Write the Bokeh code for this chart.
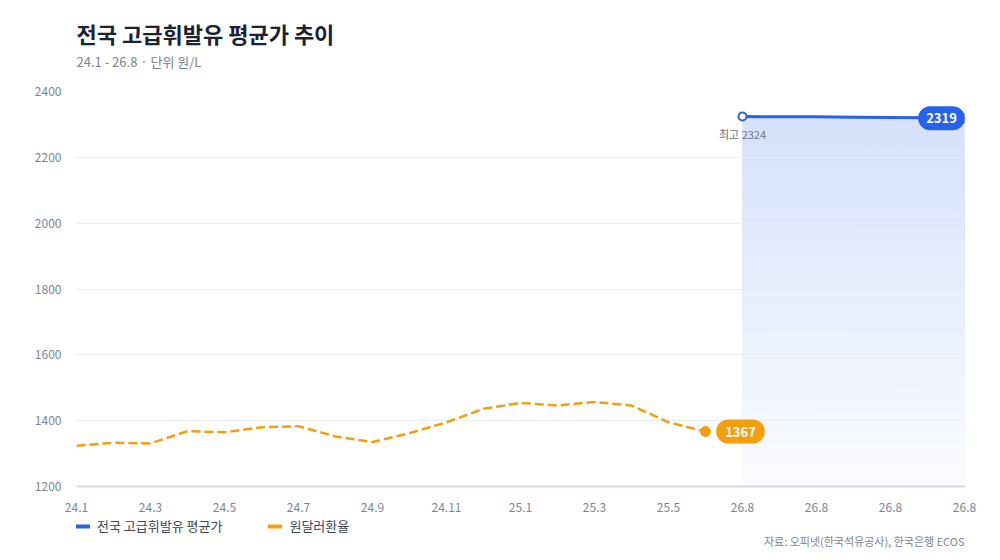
import numpy as np
from bokeh.plotting import figure
from bokeh.layouts import column
from bokeh.models import FixedTicker, Legend, LegendItem, Label, Range1d
from bokeh.embed import file_html
from bokeh.resources import INLINE

# ---- data ----
months = ["24.1", "24.2", "24.3", "24.4", "24.5", "24.6", "24.7", "24.8", "24.9",
          "24.10", "24.11", "24.12", "25.1", "25.2", "25.3", "25.4", "25.5", "25.6",
          "26.8", "26.8", "26.8", "26.8", "26.8", "26.8", "26.8"]
exchange = [1324, 1333, 1331, 1368, 1365, 1380, 1383, 1352, 1335, 1362, 1395, 1436,
            1454, 1446, 1457, 1446, 1395, 1367]
fuel = [2324, 2323, 2323, 2322, 2321, 2320, 2319]
fuel_start = 18
y_ticks = [1200, 1400, 1600, 1800, 2000, 2200, 2400]
fuel_name = "전국 고급휘발유 평균가"
fx_name = "원달러환율"
title_text = "전국 고급휘발유 평균가 추이"
subtitle_text = "24.1 - 26.8 · 단위 원/L"
source_text = "자료: 오피넷(한국석유공사), 한국은행 ECOS"
peak_text = "최고 2324"

FONT = "Noto Sans CJK KR"
BLUE = "#2563eb"
ORANGE = "#f59e0b"
GRAY = "#7b8496"
W = 990
LEFT = 76
RIGHT = 26
FW = W - LEFT - RIGHT


def blank(h):
    f = figure(width=W, height=h, output_backend="svg", toolbar_location=None,
               x_range=Range1d(0, FW), y_range=Range1d(0, h),
               min_border_left=LEFT, min_border_right=RIGHT,
               min_border_top=0, min_border_bottom=0)
    f.axis.visible = False
    f.grid.visible = False
    f.outline_line_color = None
    f.background_fill_color = "white"
    f.border_fill_color = "white"
    return f


def blend(a):
    b = (0x25, 0x63, 0xeb)
    return "#%02x%02x%02x" % tuple(int(round(255 * (1 - a) + c * a)) for c in b)


# ---- header ----
HH = 83
header = blank(HH)
header.add_layout(Label(x=0, y=HH - 32, text=title_text, text_font=FONT,
                        text_font_size="22px", text_font_style="bold",
                        text_color="#1b2232", text_baseline="middle", text_align="left"))
header.add_layout(Label(x=0, y=HH - 61, text=subtitle_text, text_font=FONT,
                        text_font_size="13px", text_color=GRAY,
                        text_baseline="middle", text_align="left"))

# ---- main chart ----
p = figure(width=W, height=433, output_backend="svg", toolbar_location=None,
           x_range=Range1d(0, len(months) - 1), y_range=Range1d(y_ticks[0], y_ticks[-1]),
           min_border_left=LEFT, min_border_right=RIGHT, min_border_top=8,
           min_border_bottom=30)
p.outline_line_color = None
p.background_fill_color = "white"
p.border_fill_color = "white"

ex_x = np.arange(len(exchange))
fu_x = np.arange(fuel_start, fuel_start + len(fuel))
fv = np.array(fuel, dtype=float)
base = float(y_ticks[0])
N = 60
for k in range(N, 0, -1):
    top = base + (fv - base) * k / N
    a = 0.02 + 0.17 * k / N
    p.varea(x=fu_x, y1=base, y2=top, fill_color=blend(a), fill_alpha=1.0, level="image")

p.line(ex_x, exchange, line_color=ORANGE, line_width=2.5, line_dash="9 4")
p.line(fu_x, fuel, line_color=BLUE, line_width=3)
p.scatter([ex_x[-1]], [exchange[-1]], size=10, fill_color=ORANGE, line_color=ORANGE)
p.scatter([fu_x[0]], [fuel[0]], size=8, fill_color="white", line_color=BLUE, line_width=2)
p.scatter([fu_x[-1]], [fuel[-1]], size=9, fill_color=BLUE, line_color=BLUE)

p.add_layout(Label(x=fu_x[-1], y=fuel[-1], text=str(fuel[-1]), x_offset=-23,
                   text_align="center", text_baseline="middle",
                   text_font=FONT, text_font_size="13px", text_font_style="bold",
                   text_color="white", background_fill_color=BLUE,
                   border_radius=12, padding=(8, 7)))
p.add_layout(Label(x=ex_x[-1], y=exchange[-1], text=str(exchange[-1]), x_offset=35,
                   text_align="center", text_baseline="middle",
                   text_font=FONT, text_font_size="13px", text_font_style="bold",
                   text_color="white", background_fill_color=ORANGE,
                   border_radius=12, padding=(9, 7)))
p.add_layout(Label(x=fu_x[0], y=fuel[0], text=peak_text, y_offset=-17,
                   text_align="center", text_baseline="middle",
                   text_font=FONT, text_font_size="11px", text_color="#6b7280"))

p.xaxis.ticker = FixedTicker(ticks=list(range(0, len(months), 2)))
p.xaxis.major_label_overrides = {i: months[i] for i in range(0, len(months), 2)}
p.yaxis.ticker = FixedTicker(ticks=y_ticks)
for ax in (p.xaxis, p.yaxis):
    ax.major_tick_line_color = None
    ax.minor_tick_line_color = None
    ax.major_tick_out = 0
    ax.major_tick_in = 0
    ax.minor_tick_out = 0
    ax.major_label_text_font = FONT
    ax.major_label_text_font_size = "12px"
    ax.major_label_text_color = GRAY
p.yaxis.axis_line_color = None
p.yaxis.major_label_standoff = 15
p.xaxis.axis_line_color = "#d5dae2"
p.xaxis.axis_line_width = 2
p.xaxis.major_label_standoff = 16
p.xgrid.grid_line_color = None
p.ygrid.grid_line_color = "#e9edf3"

# ---- footer: legend + source ----
FH = 42
footer = blank(FH)
r1 = footer.line([-50, -40], [-50, -50], line_color=BLUE, line_width=4, line_cap="round")
r2 = footer.line([-50, -40], [-50, -50], line_color=ORANGE, line_width=4, line_cap="round")
legend = Legend(items=[LegendItem(label=fuel_name, renderers=[r1]),
                       LegendItem(label=fx_name, renderers=[r2])],
                orientation="horizontal", location=(0, FH - 11 - 8),
                label_text_font=FONT, label_text_font_size="13px", label_text_color="#3d4656",
                glyph_width=14, glyph_height=12, label_height=16, label_standoff=7,
                spacing=46, padding=0, margin=0, border_line_color=None,
                background_fill_alpha=0)
footer.add_layout(legend)
footer.add_layout(Label(x=FW, y=FH - 24, text=source_text, text_font=FONT,
                        text_font_size="11px", text_color=GRAY,
                        text_align="right", text_baseline="middle"))

layout = column(header, p, footer, spacing=0)
open("out.html", "w").write(file_html(layout, INLINE))
